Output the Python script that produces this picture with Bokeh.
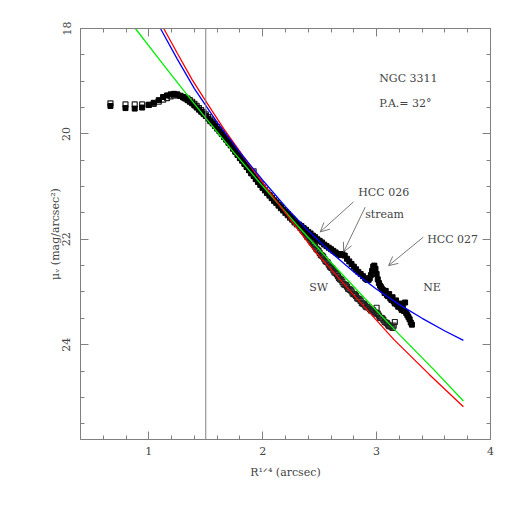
from bokeh.plotting import figure
from bokeh.models import Range1d, LinearAxis, SingleIntervalTicker, Label, Arrow, OpenHead, Span
from bokeh.embed import file_html
from bokeh.resources import INLINE

# ---------------- data ----------------
# inner profile (both sides), R^(1/4) in arcsec^(1/4)
r_inner = [0.663, 0.795, 0.876, 0.941, 0.999, 1.043, 1.087, 1.125, 1.160, 1.192, 1.222, 1.250, 1.277, 1.302]
ne_mu_inner = [19.47, 19.51, 19.52, 19.50, 19.45, 19.41, 19.36, 19.30, 19.27, 19.25, 19.24, 19.25, 19.28, 19.31]
sw_mu_inner = [19.42, 19.44, 19.44, 19.44, 19.45, 19.43, 19.39, 19.35, 19.32, 19.29, 19.27, 19.27, 19.28, 19.30]

r_mid = [1.32, 1.34, 1.36, 1.38, 1.40, 1.42, 1.44, 1.46, 1.48, 1.50,
         1.52, 1.54, 1.56, 1.58, 1.60, 1.62, 1.64, 1.66, 1.68, 1.70,
         1.72, 1.74, 1.76, 1.78, 1.80, 1.82, 1.84, 1.86, 1.88, 1.90,
         1.92, 1.94, 1.96, 1.98, 2.00, 2.02, 2.04, 2.06, 2.08, 2.10,
         2.12, 2.14, 2.16, 2.18, 2.20, 2.22, 2.24, 2.26, 2.28, 2.30]
ne_mu_mid = [19.33, 19.36, 19.39, 19.42, 19.46, 19.50, 19.54, 19.58, 19.62, 19.66,
             19.71, 19.76, 19.80, 19.85, 19.90, 19.95, 20.00, 20.06, 20.11, 20.17,
             20.22, 20.28, 20.34, 20.40, 20.46, 20.51, 20.57, 20.63, 20.69, 20.75,
             20.80, 20.86, 20.91, 20.97, 21.02, 21.07, 21.12, 21.16, 21.21, 21.26,
             21.30, 21.35, 21.39, 21.44, 21.48, 21.52, 21.57, 21.61, 21.66, 21.70]
sw_mu_mid = [19.31, 19.33, 19.36, 19.39, 19.43, 19.47, 19.51, 19.55, 19.59, 19.63,
             19.68, 19.73, 19.77, 19.82, 19.87, 19.92, 19.98, 20.04, 20.09, 20.15,
             20.21, 20.27, 20.33, 20.39, 20.45, 20.50, 20.56, 20.62, 20.68, 20.74,
             20.71, 20.85, 20.91, 20.96, 21.02, 21.07, 21.12, 21.17, 21.22, 21.27,
             21.31, 21.36, 21.41, 21.45, 21.50, 21.54, 21.59, 21.63, 21.68, 21.72]

# outer NE side (with HCC 026 / stream / HCC 027 features)
ne_r_outer = [2.32, 2.34, 2.36, 2.38, 2.40, 2.42, 2.44, 2.46, 2.48, 2.50,
              2.52, 2.54, 2.56, 2.58, 2.60, 2.62, 2.64, 2.66, 2.68, 2.70,
              2.72, 2.74, 2.76, 2.78, 2.80, 2.82, 2.84, 2.86, 2.88, 2.90,
              2.91, 2.92, 2.93, 2.94, 2.95, 2.96, 2.97, 2.98, 2.99, 3.00,
              3.01, 3.02, 3.03, 3.04, 3.05, 3.06, 3.07, 3.08, 3.09, 3.10,
              3.11, 3.12, 3.13, 3.14, 3.15, 3.16, 3.17, 3.18, 3.19, 3.20,
              3.21, 3.22, 3.23, 3.24, 3.25, 3.26, 3.27, 3.28, 3.29, 3.30, 3.31]
ne_mu_outer = [21.72, 21.75, 21.79, 21.82, 21.86, 21.89, 21.93, 21.96, 22.00, 22.03,
               22.06, 22.10, 22.13, 22.16, 22.19, 22.22, 22.25, 22.28, 22.30, 22.28,
               22.31, 22.37, 22.42, 22.47, 22.52, 22.57, 22.62, 22.66, 22.70, 22.74,
               22.76, 22.77, 22.77, 22.74, 22.68, 22.60, 22.52, 22.50, 22.56, 22.66,
               22.76, 22.83, 22.88, 22.91, 22.95, 22.97, 23.02, 22.98, 23.06, 23.08,
               23.04, 23.12, 23.15, 23.10, 23.18, 23.22, 23.16, 23.24, 23.28, 23.22,
               23.30, 23.34, 23.26, 23.36, 23.20, 23.40, 23.44, 23.48, 23.52, 23.58, 23.62]

# outer SW side
sw_r_outer = [2.32, 2.34, 2.36, 2.38, 2.40, 2.42, 2.44, 2.46, 2.48, 2.50,
              2.52, 2.54, 2.56, 2.58, 2.60, 2.62, 2.64, 2.66, 2.68, 2.70,
              2.72, 2.74, 2.76, 2.78, 2.80, 2.82, 2.84, 2.86, 2.88, 2.90,
              2.92, 2.94, 2.96, 2.98, 3.00, 3.00, 3.02, 3.04, 3.06, 3.08,
              3.10, 3.12, 3.14, 3.15, 3.16]
sw_mu_outer = [21.74, 21.79, 21.85, 21.91, 21.96, 22.02, 22.08, 22.14, 22.20, 22.26,
               22.31, 22.37, 22.43, 22.48, 22.54, 22.59, 22.64, 22.70, 22.76, 22.81,
               22.86, 22.90, 22.95, 22.99, 23.04, 23.08, 23.13, 23.17, 23.22, 23.26,
               23.29, 23.32, 23.35, 23.38, 23.40, 23.30, 23.45, 23.49, 23.53, 23.58,
               23.62, 23.65, 23.68, 23.64, 23.57]
sw_r_outer2 = [2.33, 2.35, 2.37, 2.39, 2.41, 2.43, 2.45, 2.47, 2.49, 2.51,
               2.53, 2.55, 2.57, 2.59, 2.61, 2.63, 2.65, 2.67, 2.69, 2.71,
               2.73, 2.75, 2.77, 2.79, 2.81, 2.83, 2.85, 2.87, 2.89, 2.91,
               2.93, 2.95, 2.97, 2.99, 3.01, 3.03, 3.05, 3.07, 3.09, 3.11, 3.13]
sw_mu_outer2 = [21.78, 21.83, 21.87, 21.95, 21.98, 22.06, 22.10, 22.18, 22.22, 22.30,
                22.33, 22.41, 22.44, 22.52, 22.55, 22.63, 22.66, 22.74, 22.77, 22.85,
                22.87, 22.94, 22.96, 23.03, 23.05, 23.12, 23.14, 23.21, 23.23, 23.29,
                23.29, 23.35, 23.35, 23.41, 23.41, 23.49, 23.50, 23.57, 23.59, 23.65, 23.66]

# model profiles
red_r = [1.131, 1.25, 1.38, 1.50, 1.657, 1.847, 2.10, 2.432, 2.80, 3.15, 3.46, 3.762]
red_mu = [18.00, 18.47, 18.97, 19.38, 19.90, 20.48, 21.22, 22.16, 23.06, 23.90, 24.56, 25.18]
blue_r = [1.102, 1.25, 1.40, 1.60, 1.80, 2.00, 2.20, 2.40, 2.60, 2.80, 3.00, 3.20, 3.40, 3.60, 3.762]
blue_mu = [18.00, 18.58, 19.14, 19.78, 20.35, 20.88, 21.38, 21.84, 22.25, 22.62, 22.95, 23.24, 23.50, 23.74, 23.92]
green_r = [0.882, 1.10, 1.30, 1.50, 1.75, 2.00, 2.30, 2.60, 2.90, 3.20, 3.50, 3.762]
green_mu = [18.00, 18.61, 19.16, 19.70, 20.36, 20.99, 21.73, 22.44, 23.13, 23.81, 24.47, 25.07]

inner_limit = 1.5

ne_r = r_inner + r_mid + ne_r_outer
ne_mu = ne_mu_inner + ne_mu_mid + ne_mu_outer
sw_r = r_inner + r_mid + sw_r_outer + sw_r_outer2
sw_mu = sw_mu_inner + sw_mu_mid + sw_mu_outer + sw_mu_outer2

FONT = "DejaVu Serif"
TXT = "#444444"
AX = "#808080"

p = figure(width=510, height=510, x_range=Range1d(0.4, 4.0), y_range=Range1d(25.8, 18.0),
           output_backend="svg", toolbar_location=None,
           min_border_left=80, min_border_right=20, min_border_top=28, min_border_bottom=71)
p.xgrid.visible = False
p.ygrid.visible = False
p.outline_line_color = AX
p.background_fill_color = "white"
p.border_fill_color = "white"

p.xaxis.ticker = SingleIntervalTicker(interval=1, num_minor_ticks=5)
p.yaxis.ticker = SingleIntervalTicker(interval=2, num_minor_ticks=4)
p.add_layout(LinearAxis(ticker=SingleIntervalTicker(interval=1, num_minor_ticks=5)), "above")
p.add_layout(LinearAxis(ticker=SingleIntervalTicker(interval=2, num_minor_ticks=4)), "right")

for ax in p.axis:
    ax.axis_line_color = AX
    ax.major_tick_line_color = AX
    ax.minor_tick_line_color = AX
    ax.major_tick_in = 8
    ax.major_tick_out = 0
    ax.minor_tick_in = 4
    ax.minor_tick_out = 0
    ax.major_label_text_font = FONT
    ax.major_label_text_font_size = "11px"
    ax.major_label_text_color = TXT
    ax.axis_label_text_font = FONT
    ax.axis_label_text_font_size = "11px"
    ax.axis_label_text_font_style = "normal"
    ax.axis_label_text_color = TXT
for ax in p.above + p.right:
    ax.major_label_text_color = None
    ax.major_label_standoff = 0

xa = p.below[0]
ya = p.left[0]
xa.major_label_standoff = 7
ya.major_label_standoff = 10
ya.major_label_orientation = "vertical"
xa.axis_label = "R¹ᐟ⁴ (arcsec)"
xa.axis_label_standoff = 8
ya.axis_label = "μᵥ (mag/arcsec²)"
ya.axis_label_standoff = -2

p.add_layout(Span(location=inner_limit, dimension="height", line_color=AX, line_width=1))

# data
p.scatter(sw_r, sw_mu, marker="square", size=5, fill_color=None, line_color="#222222", line_width=1.2)
p.scatter(ne_r, ne_mu, marker="square", size=5, fill_color="black", line_color="black")

# models
p.line(green_r, green_mu, line_color="#00ee00", line_width=1.3)
p.line(red_r, red_mu, line_color="#ff0000", line_width=1.3)
p.line(blue_r, blue_mu, line_color="#0000ff", line_width=1.3)

def lab(x, y, t, size="11px"):
    p.add_layout(Label(x=x, y=y, text=t, text_font=FONT, text_font_size=size, text_color=TXT,
                       text_align="left", text_baseline="middle"))

lab(3.023, 18.94, "NGC 3311")
lab(3.023, 19.42, "P.A.= 32°")
lab(2.839, 21.11, "HCC 026")
lab(2.90, 21.53, "stream")
lab(3.444, 22.00, "HCC 027")
lab(2.409, 22.91, "SW")
lab(3.409, 22.91, "NE")

for xs, ys, xe, ye in [(2.797, 21.29, 2.505, 21.86), (2.90, 21.39, 2.71, 22.24), (3.41, 21.96, 3.105, 22.50)]:
    p.add_layout(Arrow(x_start=xs, y_start=ys, x_end=xe, y_end=ye, line_color="#555555", line_width=0.8,
                       end=OpenHead(size=9, line_color="#555555", line_width=0.8)))

open("out.html", "w").write(file_html(p, INLINE))
